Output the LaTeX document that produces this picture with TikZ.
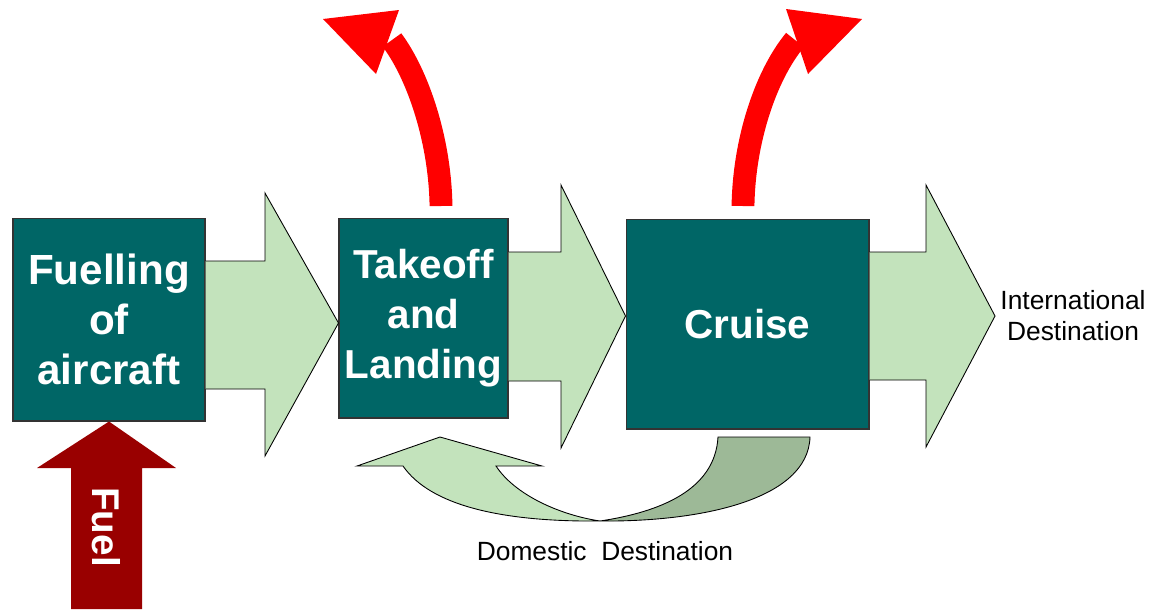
\documentclass[tikz,border=0pt]{standalone}
\usepackage{fontspec}
\setmainfont{Liberation Sans}
\usepackage{xcolor}
\usetikzlibrary{arrows.meta}
\usetikzlibrary{positioning}

\definecolor{stageteal}{HTML}{006666}
\definecolor{flowgreen}{HTML}{C3E3BC}
\definecolor{backgreen}{HTML}{9DB997}
\definecolor{fuelred}{HTML}{990000}

\begin{document}
\begin{tikzpicture}[x=0.02cm, y=-0.02cm,
    stage/.style={draw=black!80, line width=0.6pt, fill=stageteal, text=white, inner sep=0pt,
        align=center, font=\bfseries\fontsize{23}{28.4}\selectfont},
    flow/.style={draw=black, line width=0.5pt, fill=flowgreen},
    loss/.style={draw=red, line width=13pt},
    dest/.style={align=center, font=\fontsize{15}{17.6}\selectfont}]
    \useasboundingbox (0,0) rectangle (1158,609);
    % stages
    \node[stage, minimum width=3.84cm, minimum height=4.06cm, font=\bfseries\fontsize{24}{28.6}\selectfont] (fuelling) at (109,319.5) {Fuelling\\of\\aircraft};
    \node[stage, minimum width=3.38cm, minimum height=4cm] (takeoff) at (423.5,318) {Takeoff\\and\\Landing};
    \node[stage, minimum width=4.86cm, minimum height=4.2cm] (cruise) at (747.5,324) {Cruise};
    % flow arrows
    \filldraw[flow] (fuelling.east |- 0,261) -- (265,261) -- (265,193) -- (takeoff.west |- 0,323) -- (265,456) -- (265,389) -- (fuelling.east |- 0,389);
    \filldraw[flow] (takeoff.east |- 0,252) -- (561,252) -- (561,185) -- (cruise.west |- 0,316) -- (561,448) -- (561,381) -- (takeoff.east |- 0,381);
    \filldraw[flow] (cruise.east |- 0,252) -- (926,252) -- (926,185) -- (995,316) -- (926,447) -- (926,380) -- (cruise.east |- 0,380);
    \node[dest] (intl) at (1073,316) {International\\Destination};
    % fuel input
    \fill[fuelred] (fuelling.south) -- (176,468) -- (142,468) -- (142,609) -- (71,609) -- (71,468) -- (37,468) -- cycle;
    \node[rotate=-90, text=white, font=\bfseries\fontsize{22}{26}\selectfont] (fuel) at (106,527) {Fuel};
    % losses
    \coordinate (lossA) at (441,206);
    \coordinate (lossAend) at (392,40);
    \coordinate (lossB) at (743,206);
    \coordinate (lossBend) at (795,40);
    \draw[loss] (lossA) .. controls (440,140) and (418,75) .. (lossAend);
    \fill[red] (323,19) -- (399,10) -- (376,74) -- cycle;
    \draw[loss] (lossB) .. controls (744,140) and (766,75) .. (lossBend);
    \fill[red] (862,19) -- (786,9) -- (808,74) -- cycle;
    % domestic return
    \filldraw[flow] (440,437) -- (542,466) -- (496,466) .. controls (515,495) and (560,515) .. (600,521)
        .. controls (500,522) and (430,505) .. (403,466) -- (357,466) -- cycle;
    \filldraw[flow, fill=backgreen] (718,437) -- (810,437) .. controls (808,500) and (700,522) .. (600,521)
        .. controls (660,512) and (715,490) .. (718,437) -- cycle;
    \node[dest] (domestic) at (605,551) {Domestic\ \ Destination};
\end{tikzpicture}
\end{document}
